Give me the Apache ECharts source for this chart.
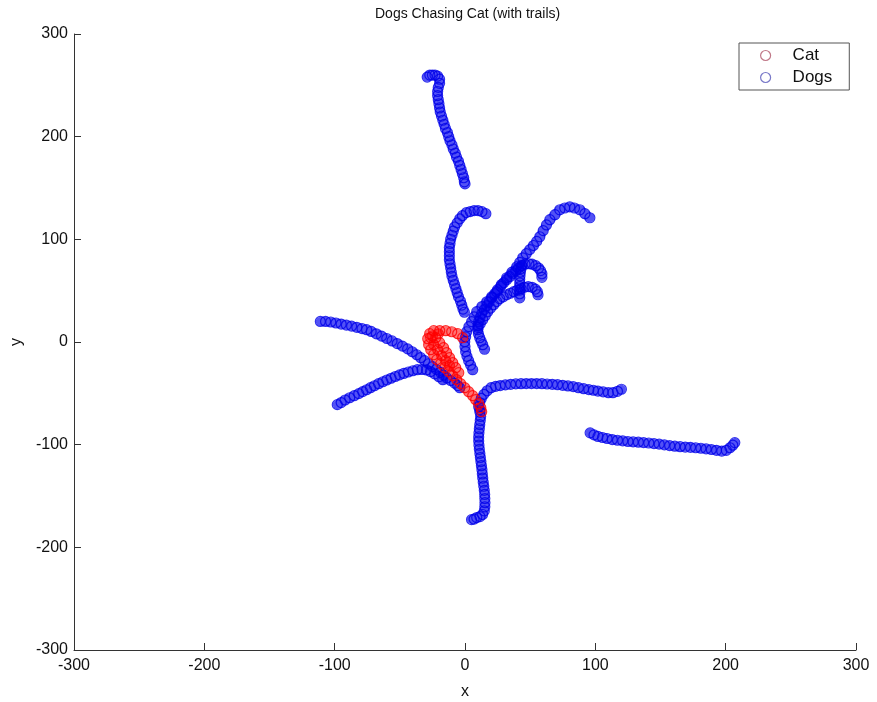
<!DOCTYPE html>
<html>

<head>
    <meta charset="utf-8">
    <title>Dogs Chasing Cat</title>
</head>

<body style="margin:0;background:#fff;">
    <!-- chart box, same size as the window -->
    <div id="main" style="width: 877px;height:702px;"></div>

    <script src="https://cdn.jsdelivr.net/npm/echarts/dist/echarts.min.js"></script>

    <script type="text/javascript">
        // axis ticks
        var xTicks = [-300, -200, -100, 0, 100, 200, 300];
        var yTicks = [-300, -200, -100, 0, 100, 200, 300];

        // cat trail [x, y], read in three strands
        var catPath = [
            [-1.8, 4.2], [-5.6, 8.1], [-10.2, 10], [-14.8, 11], [-19.4, 11], [-24, 11], [-27.1, 8.1], [-28.6, 3.2],
            [-27.9, -2.6], [-26.3, -7.5], [-24, -12.4], [-21.7, -17.2], [-18.7, -21.1], [-15.6, -25], [-12.5, -28.9],
            [-9.4, -32.8], [-6.4, -36.7], [-3.3, -40.6], [-0.2, -44.5], [2.8, -48.4], [5.9, -52.3], [8.2, -56.2],
            [10.5, -60.1], [12.1, -64], [12.8, -67.9]
        ];
        var catStrand2 = [
            [-20.5, 8], [-22.5, 4.2], [-19.4, -0.7], [-16.4, -5.5], [-14.1, -10.4], [-11.8, -15.2], [-9.4, -20.1],
            [-7.1, -25], [-4.8, -29.9]
        ];
        var catStrand3 = [
            [-25, 6], [-26.3, 4.2], [-24, -2.6], [-21, -7.5], [-17.9, -13.2], [-14.8, -18.2], [-11.8, -23.1]
        ];

        // dog trails [x, y]
        var dog1 = [
            [-29, 258], [-27, 260], [-25, 260], [-23, 260], [-21, 259], [-19.5, 256], [-19.5, 252], [-20.5, 248],
            [-21, 244], [-21, 240], [-20.5, 236], [-20, 232], [-19.5, 228], [-19, 224], [-18, 220], [-17, 216],
            [-16, 212], [-15, 208], [-13.5, 204], [-12.5, 200], [-11.5, 196], [-10, 192], [-9, 188], [-7.5, 184],
            [-6.5, 180], [-5, 176], [-4, 172], [-3, 168], [-2, 164], [-1, 160], [-0.5, 156], [0, 154]
        ];
        var dog2 = [
            [16, 125], [13, 127], [10, 128], [7, 128], [4, 127], [1, 126], [-2, 123], [-4, 120], [-6, 116],
            [-8, 112], [-9, 108], [-10, 104], [-11, 100], [-11.5, 96], [-12, 92], [-12, 88], [-12, 84], [-12, 80],
            [-11.5, 76], [-11, 72], [-10.5, 68], [-10, 64], [-9, 60], [-8, 56], [-7, 52], [-6, 48], [-5, 44],
            [-3.5, 40], [-2.5, 36], [-1.5, 32], [-0.5, 29]
        ];
        var dog3 = [
            [95.8, 121], [92, 125], [88.1, 128.8], [84, 130.5], [80.4, 131.7], [76.5, 130.5], [72.7, 128.8],
            [69, 124], [65.1, 119.1], [62.5, 114], [60, 108.5], [57.4, 102.5], [55, 98], [52.5, 94], [49.7, 90],
            [47, 86], [44.3, 82], [42, 77.5], [39.7, 73.3], [36, 68], [32, 62.6], [28, 56], [24.3, 49], [20.5, 44],
            [16.7, 39.2], [13, 34.5], [9, 29.5], [7, 24.5], [5.1, 19.8], [3, 15], [1.3, 10], [0.5, 5], [-0.2, 0.3],
            [0, -4.5], [0.5, -9.4], [1.5, -14], [2.8, -18.2], [4.3, -22.5], [5.9, -27]
        ];
        var dog4 = [
            [59, 63], [59, 66.5], [58, 69.5], [56.5, 72], [54.3, 74.3], [51.5, 75.8], [49, 76.2], [46, 75.8],
            [43.5, 74.3], [41, 72], [39, 69.4], [36.5, 66.5], [34.3, 63.6], [32, 60.7], [29.7, 57.7], [27.5, 54.3],
            [25, 51], [22.8, 47], [20.5, 43], [18.5, 39], [16.7, 35.3], [14.7, 31.5], [12.8, 27.6], [11.5, 23.7],
            [10.5, 19.8], [10, 16], [9.8, 12], [10.3, 8], [11.3, 4.2], [12.4, 0.8], [13.6, -2.6], [15, -7]
        ];
        var dog5 = [
            [56, 46], [55.5, 49], [54, 51.5], [51.5, 53.3], [48.5, 54], [45.5, 53.3], [43, 52], [40, 50.5],
            [37.4, 49], [34.7, 47.5], [32, 46], [29.3, 44], [26.6, 42.2], [24.3, 39.3], [22, 36.3], [19.7, 33],
            [17.4, 29.5], [15.5, 25.6], [13.6, 21.7], [11.7, 17.8], [10, 14]
        ];
        var dog6 = [
            [42, 43], [42, 47], [42, 50.5], [42, 54], [42, 57.5], [42, 61], [42.2, 64.5], [42.5, 68], [43, 71.5], [43.5, 74.5]
        ];
        var dog7 = [
            [-111, 20], [-107, 20], [-103, 19.5], [-99, 18.5], [-95, 17.5], [-91, 16.5], [-87, 15.5], [-83, 14.3],
            [-79, 13], [-75.5, 12], [-72, 10.3], [-68, 8], [-64, 5.7], [-60, 3.4], [-56, 1], [-52, -1.5], [-48, -4],
            [-44, -6.7], [-40.5, -9.5], [-37, -12.4], [-34, -15.3], [-31, -18.2], [-28, -21.2], [-25, -24],
            [-22, -26.7], [-19, -29.5], [-16.5, -32.2], [-14, -35], [-11, -37.5], [-8, -40], [-5.5, -42.5], [-4, -44.5]
        ];
        var dog8 = [
            [-98, -61], [-95, -59], [-92, -56.5], [-88.5, -54.3], [-85, -52.3], [-81.5, -50.3], [-78.5, -48.3],
            [-75.5, -46.5], [-72.5, -44.5], [-69.5, -42.6], [-66.3, -40.6], [-63, -38.7], [-60, -37], [-56.7, -35.3],
            [-53.5, -33.6], [-50.2, -32], [-47, -30.6], [-43.5, -29.2], [-40, -28], [-36.5, -27], [-33, -26.8],
            [-29.5, -27.2], [-26.5, -28.8], [-23.3, -31], [-20, -33.8], [-17, -36.7]
        ];
        var dog9 = [
            [120, -46], [117, -48], [113.5, -49.4], [110, -49.4], [106, -48.6], [102, -47.8], [98.5, -47], [95, -46.4],
            [91, -45.5], [87, -44.5], [83, -43.5], [79, -42.8], [75, -42.2], [71, -41.6], [67, -41.2], [63, -40.9],
            [59, -40.6], [55, -40.5], [51, -40.5], [47, -40.5], [43, -40.6], [39, -40.8], [35, -41.2], [31, -41.8],
            [27, -42.4], [23.5, -43.2], [20, -44.5], [17, -47.5], [14.5, -51], [12.5, -55], [11.3, -59], [10.5, -63]
        ];
        var dog10 = [
            [5, -173], [7, -172.5], [9, -171], [11.5, -170], [13.5, -168], [14.8, -164.5], [15.2, -160.5],
            [15.3, -156.5], [15.2, -152.5], [15.1, -148.5], [14.8, -144.5], [14.4, -140.5], [14, -136.5],
            [13.6, -132.5], [13.3, -128.5], [13, -124.5], [12.6, -120.5], [12.2, -116.5], [11.8, -112.5],
            [11.4, -108.5], [11, -104.5], [10.7, -100.5], [10.5, -96.5], [10.5, -92.5], [10.7, -88.5], [11, -84.5],
            [11.3, -80.5], [11.7, -76.5], [12, -72.5], [11.5, -68.5], [11.3, -66]
        ];
        var dog11 = [
            [96, -88.5], [99, -90.5], [102, -92], [105.5, -93], [109, -94], [113, -95], [117, -95.7], [121, -96.3],
            [125, -96.9], [129, -97.3], [133, -97.6], [137, -98], [141, -98.4], [145, -99], [149, -99.5],
            [153, -100.2], [157, -100.9], [161, -101.5], [165, -102], [169, -102.3], [173, -102.6], [177, -103],
            [181, -103.5], [185, -104.1], [189, -104.7], [193, -105.5], [197, -106.3], [200.5, -105.5],
            [203.3, -103], [205.5, -100.5], [207, -98]
        ];

        var dogList = [dog1, dog2, dog3, dog4, dog5, dog6, dog7, dog8, dog9, dog10, dog11];
        var catList = [catPath, catStrand2, catStrand3];

        var axisFont = 'Liberation Sans, Arial, sans-serif';
        var myChart = echarts.init(document.getElementById('main'));

        // the rings overlap so much that the trail looks filled: a wide band under the rings
        function bandSeries(name, trail, color) {
            return {
                name: name,
                type: 'line',
                data: trail,
                showSymbol: false,
                silent: true,
                z: 1,
                lineStyle: { width: 9, color: color, cap: 'round', join: 'round' }
            };
        }

        function ringSeries(name, trail, color, z) {
            return {
                name: name,
                type: 'scatter',
                symbol: 'circle',
                symbolSize: 10,
                silent: true,
                z: z,
                itemStyle: { color: 'transparent', borderColor: color, borderWidth: 1.2 },
                data: trail
            };
        }

        var series = [];
        dogList.forEach(function (d) {
            series.push(bandSeries('Dogs', d, 'rgba(0,0,240,0.68)'));
        });
        catList.forEach(function (c) {
            series.push(bandSeries('Cat', c, 'rgba(255,0,0,0.55)'));
        });
        series.push(ringSeries('Dogs', [].concat.apply([], dogList), '#0000e8', 2));
        series.push(ringSeries('Cat', [].concat.apply([], catList), '#ff0000', 3));

        var option = {
            animation: false,
            backgroundColor: '#fff',
            title: {
                text: 'Dogs Chasing Cat (with trails)',
                left: 375,
                top: 7,
                padding: 0,
                textStyle: { fontSize: 14, fontWeight: 'normal', color: '#111', fontFamily: axisFont }
            },
            legend: {
                orient: 'vertical',
                left: 739,
                top: 43,
                padding: [4, 17, 4, 21],
                itemGap: 5,
                itemWidth: 44,
                itemHeight: 10,
                borderColor: '#555',
                borderWidth: 1,
                textStyle: { fontSize: 17, color: '#111', fontFamily: axisFont },
                data: [
                    { name: 'Cat', icon: 'circle', itemStyle: { color: 'transparent', borderColor: '#c07888', borderWidth: 1.2 } },
                    { name: 'Dogs', icon: 'circle', itemStyle: { color: 'transparent', borderColor: '#7878c8', borderWidth: 1.2 } }
                ]
            },
            grid: {
                left: 74,
                top: 34,
                width: 782,
                height: 616,
                containLabel: false,
                outerBoundsMode: 'none'
            },
            xAxis: {
                type: 'value',
                min: xTicks[0],
                max: xTicks[xTicks.length - 1],
                interval: 100,
                name: 'x',
                nameLocation: 'middle',
                nameGap: 34,
                nameTextStyle: { fontSize: 16, color: '#111', fontFamily: axisFont },
                axisLine: { onZero: false, lineStyle: { color: '#333', width: 1 } },
                axisTick: { inside: true, length: 7, lineStyle: { color: '#333' } },
                axisLabel: { margin: 8, fontSize: 16, color: '#111', fontFamily: axisFont, showMinLabel: true, showMaxLabel: true },
                splitLine: { show: false }
            },
            yAxis: {
                type: 'value',
                min: yTicks[0],
                max: yTicks[yTicks.length - 1],
                interval: 100,
                name: 'y',
                nameLocation: 'middle',
                nameGap: 48,
                nameTextStyle: { fontSize: 16, color: '#111', fontFamily: axisFont },
                axisLine: { onZero: false, lineStyle: { color: '#333', width: 1 } },
                axisTick: { inside: true, length: 7, lineStyle: { color: '#333' } },
                axisLabel: { margin: 6, fontSize: 16, color: '#111', fontFamily: axisFont, showMinLabel: true, showMaxLabel: true },
                splitLine: { show: false }
            },
            series: series
        };

        myChart.setOption(option);
    </script>

</body>

</html>
